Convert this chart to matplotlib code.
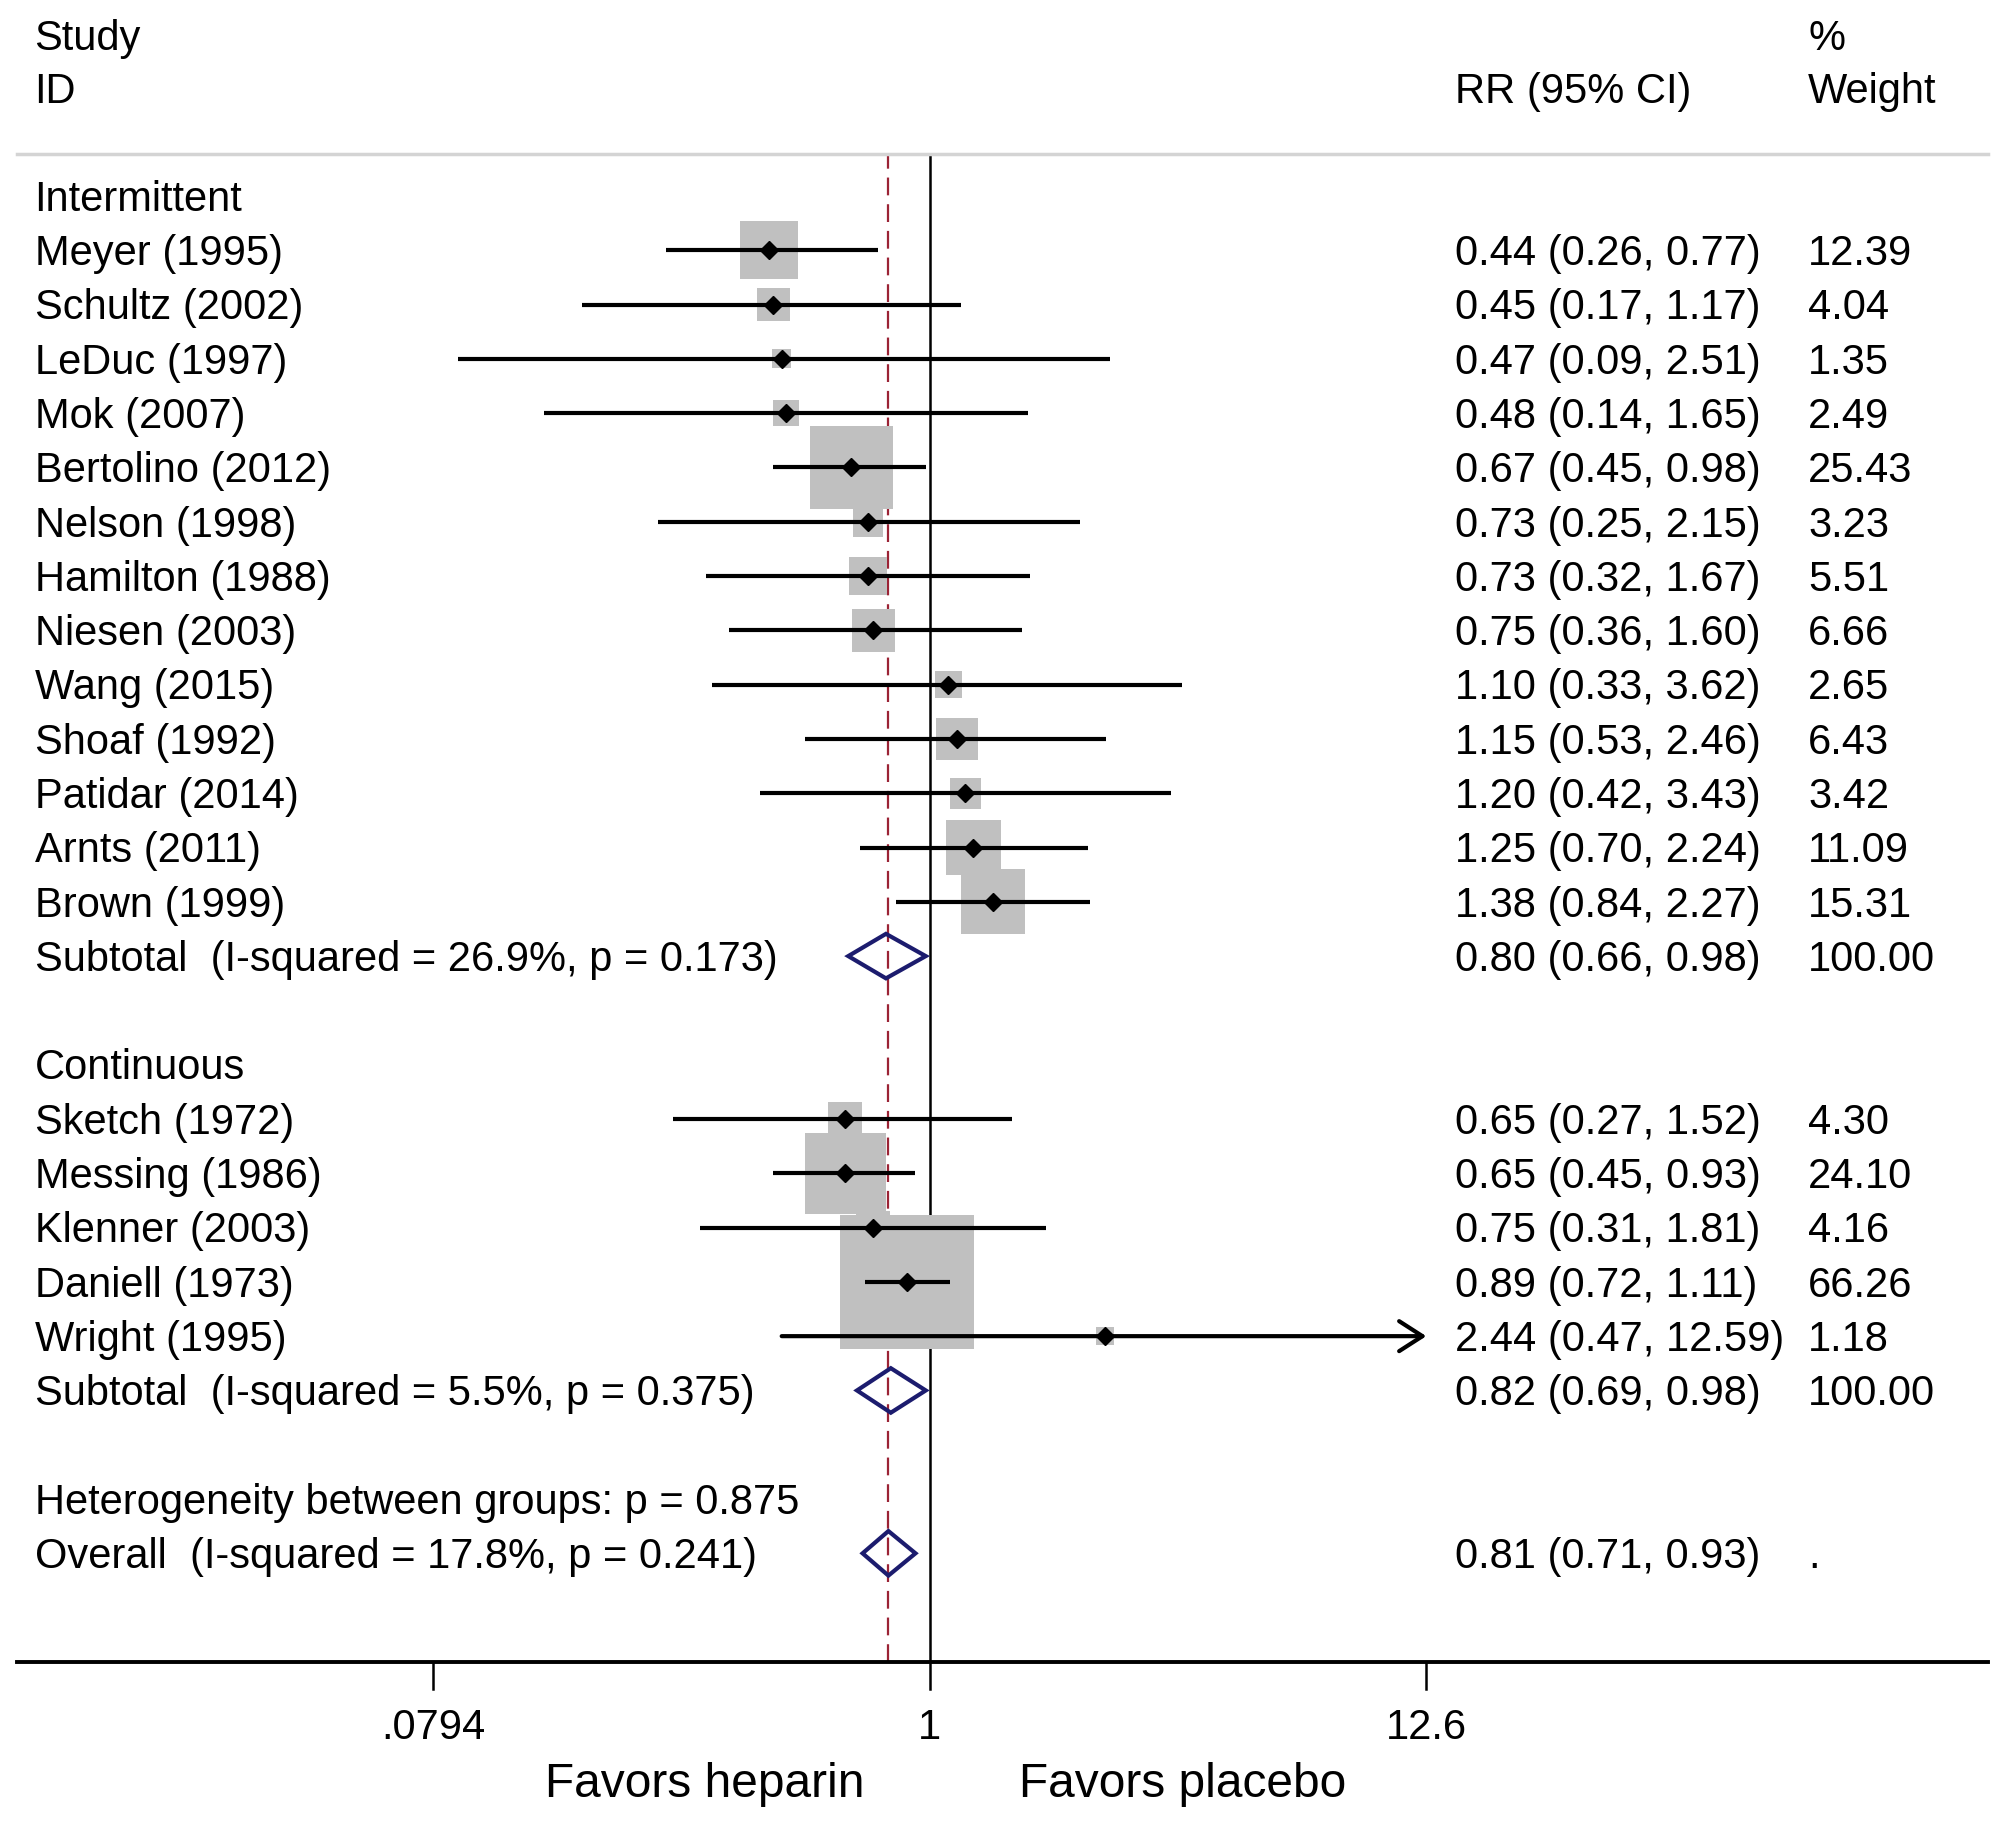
import numpy as np
import matplotlib
matplotlib.use("Agg")
import matplotlib.pyplot as plt
from matplotlib.patches import Polygon
from matplotlib.transforms import blended_transform_factory

plt.rcParams['font.family'] = ['Liberation Sans', 'DejaVu Sans']

# study level data
int_names = ["Meyer (1995)", "Schultz (2002)", "LeDuc (1997)", "Mok (2007)",
             "Bertolino (2012)", "Nelson (1998)", "Hamilton (1988)", "Niesen (2003)",
             "Wang (2015)", "Shoaf (1992)", "Patidar (2014)", "Arnts (2011)", "Brown (1999)"]
int_rr = [0.44, 0.45, 0.47, 0.48, 0.67, 0.73, 0.73, 0.75, 1.10, 1.15, 1.20, 1.25, 1.38]
int_lo = [0.26, 0.17, 0.09, 0.14, 0.45, 0.25, 0.32, 0.36, 0.33, 0.53, 0.42, 0.70, 0.84]
int_hi = [0.77, 1.17, 2.51, 1.65, 0.98, 2.15, 1.67, 1.60, 3.62, 2.46, 3.43, 2.24, 2.27]
int_w = [12.39, 4.04, 1.35, 2.49, 25.43, 3.23, 5.51, 6.66, 2.65, 6.43, 3.42, 11.09, 15.31]
int_sub = (0.80, 0.66, 0.98)
int_sub_label = "Subtotal  (I-squared = 26.9%, p = 0.173)"

con_names = ["Sketch (1972)", "Messing (1986)", "Klenner (2003)", "Daniell (1973)", "Wright (1995)"]
con_rr = [0.65, 0.65, 0.75, 0.89, 2.44]
con_lo = [0.27, 0.45, 0.31, 0.72, 0.47]
con_hi = [1.52, 0.93, 1.81, 1.11, 12.59]
con_w = [4.30, 24.10, 4.16, 66.26, 1.18]
con_sub = (0.82, 0.69, 0.98)
con_sub_label = "Subtotal  (I-squared = 5.5%, p = 0.375)"

overall = (0.81, 0.71, 0.93)
overall_label = "Overall  (I-squared = 17.8%, p = 0.241)"
het_label = "Heterogeneity between groups: p = 0.875"

xticks = [0.0794, 1, 12.6]
xticklabels = [".0794", "1", "12.6"]
x_max_shown = 12.6

FS = 30
DY = -0.07   # small downward nudge so text sits on the row like Stata

fig = plt.figure(figsize=(20.08, 18.23), dpi=100)
ax = fig.add_axes([0, 0, 1, 1])
ax.set_xscale('log')
ax.set_xlim(np.exp(-726 / 153.1), np.exp((1568 - 726) / 153.1))
ax.set_ylim(-(1423 - 153) / 42.38, 153 / 42.38)
ax.axis('off')
tr = blended_transform_factory(ax.transAxes, ax.transData)

# row layout
rows = []
rows.append(("Intermittent", None))
for i in range(len(int_names)):
    rows.append((int_names[i], (int_rr[i], int_lo[i], int_hi[i], int_w[i])))
rows.append((int_sub_label, ("sub",) + int_sub))
rows.append(("", None))
rows.append(("Continuous", None))
for i in range(len(con_names)):
    rows.append((con_names[i], (con_rr[i], con_lo[i], con_hi[i], con_w[i])))
rows.append((con_sub_label, ("sub",) + con_sub))
rows.append(("", None))
rows.append((het_label, None))
rows.append((overall_label, ("all",) + overall))


def txt(x, y, s, **kw):
    ax.text(x, y + DY, s, fontsize=FS, va='center', transform=tr, **kw)


# header
txt(0.0172, 2.97, "Study")
txt(0.0172, 1.98, "ID")
txt(0.7245, 1.98, "RR (95% CI)")
txt(0.9005, 2.97, "%")
txt(0.9005, 1.98, "Weight")
ax.axhline(0.78, xmin=13 / 1568, xmax=1552 / 1568, color='#d4d4d4', lw=2.5)

y_axis = -27.0
ax.vlines(1, y_axis, 0.78, color='black', lw=1.8, zorder=1)
ax.vlines(overall[0], y_axis, 0.78, color='#9b2335', lw=1.6,
          linestyles=(0, (8, 4)), zorder=1)

for i, (label, d) in enumerate(rows):
    y = -i
    if label:
        txt(0.0172, y, label)
    if d is None:
        continue
    if d[0] in ("sub", "all"):
        est, lo, hi = d[1], d[2], d[3]
        h = 0.41
        ax.add_patch(Polygon([(lo, y), (est, y + h), (hi, y), (est, y - h)],
                             closed=True, fill=False, edgecolor='#1c1c6e',
                             lw=3.0, zorder=4))
        txt(0.7245, y, "%.2f (%.2f, %.2f)" % (est, lo, hi))
        txt(0.9005, y, "100.00" if d[0] == "sub" else ".")
        continue
    est, lo, hi, w = d
    side = 12.9 * np.sqrt(w)          # box side in display px
    hw = side / 2 / 153.1
    hh = side / 2 / 42.38
    ax.fill_between([est * np.exp(-hw), est * np.exp(hw)], y - hh, y + hh,
                    color='#c0c0c0', lw=0, zorder=2)
    if hi >= x_max_shown * 0.99:
        ax.annotate('', xy=(hi, y), xytext=(lo, y),
                    arrowprops=dict(arrowstyle='->,head_length=0.7,head_width=0.45',
                                    lw=3.0, color='black', shrinkA=0, shrinkB=0,
                                    mutation_scale=24), zorder=3)
    else:
        ax.plot([lo, hi], [y, y], color='black', lw=3.0, solid_capstyle='butt', zorder=3)
    ax.plot([est], [y], marker='D', ms=9, color='black', zorder=4)
    txt(0.7245, y, "%.2f (%.2f, %.2f)" % (est, lo, hi))
    txt(0.9005, y, "%.2f" % w)

# bottom axis
ax.axhline(y_axis, xmin=13 / 1568, xmax=1552 / 1568, color='black', lw=2.8)
for t, tl in zip(xticks, xticklabels):
    ax.plot([t, t], [y_axis, y_axis - 0.5], color='black', lw=1.8)
    ax.text(t, y_axis - 1.15 + DY, tl, fontsize=FS, ha='center', va='center')
ax.text(675 / 1568, y_axis - 2.19 + DY, "Favors heparin", fontsize=34.5, ha='right',
        va='center', transform=tr)
ax.text(796 / 1568, y_axis - 2.19 + DY, "Favors placebo", fontsize=34.5, ha='left',
        va='center', transform=tr)

fig.savefig("out.png", dpi=100)
